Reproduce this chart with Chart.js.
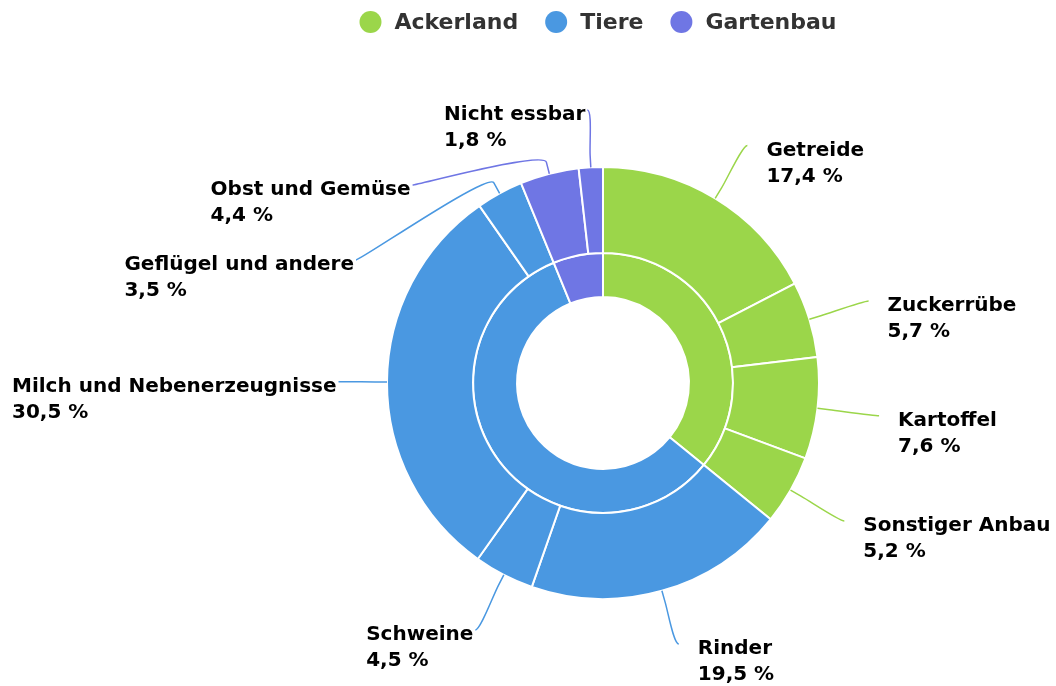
<!DOCTYPE html>
<html>
<head>
<meta charset="utf-8">
<script src="https://cdn.jsdelivr.net/npm/chart.js@4/dist/chart.umd.min.js"></script>
<style>
  html, body { margin: 0; padding: 0; background: #fff; }
  #wrap { width: 1056px; height: 686px; }
</style>
</head>
<body>
<div id="wrap"><canvas id="pie" width="1056" height="686"></canvas></div>
<script>
// inner ring: groups
let groups = ['Ackerland', 'Tiere', 'Gartenbau'];
let groupShares = [35.9, 58.0, 6.2];

// outer ring: products (clockwise from top)
let products = ['Getreide', 'Zuckerrübe', 'Kartoffel', 'Sonstiger Anbau', 'Rinder', 'Schweine',
    'Milch und Nebenerzeugnisse', 'Geflügel und andere', 'Obst und Gemüse', 'Nicht essbar'];
let productShares = [17.4, 5.7, 7.6, 5.2, 19.5, 4.5, 30.5, 3.5, 4.4, 1.8];
let productGroup = [0, 0, 0, 0, 1, 1, 1, 1, 2, 2];

let groupColors = ['#9BD64A', '#4A98E1', '#6F76E4'];

const FONT = 'bold 20px "DejaVu Sans", sans-serif';
const LEGEND_FONT = 'bold 22px "DejaVu Sans", sans-serif';

function pct(v) {
    return v.toFixed(1).replace('.', ',') + ' %';
}

// draws the legend at the top and the outside labels with connectors
let labelPlugin = {
    id: 'outerLabels',
    afterDraw(chart) {
        let ctx = chart.ctx;
        ctx.save();
        ctx.textBaseline = 'middle';

        // legend
        ctx.font = LEGEND_FONT;
        let items = groups.map((g, i) => ({ text: g, w: ctx.measureText(g).width, c: groupColors[i] }));
        let total = 0;
        items.forEach((it, i) => { total += 24 + it.w + (i < items.length - 1 ? 38 : 0); });
        total += 11;
        let lx = 598 - total / 2 + 11;
        items.forEach(it => {
            ctx.fillStyle = it.c;
            ctx.beginPath();
            ctx.arc(lx, 22, 11, 0, Math.PI * 2);
            ctx.fill();
            ctx.fillStyle = '#333333';
            ctx.textAlign = 'left';
            ctx.fillText(it.text, lx + 24, 23);
            lx += 24 + it.w + 38;
        });

        // labels
        ctx.font = FONT;
        let meta = chart.getDatasetMeta(0);
        let R, cx, cy;
        let pts = meta.data.map((arc, i) => {
            let p = arc.getProps(['x', 'y', 'startAngle', 'endAngle', 'outerRadius'], true);
            R = p.outerRadius; cx = p.x; cy = p.y;
            let a = (p.startAngle + p.endAngle) / 2;
            return { i: i, a: a, right: Math.cos(a) >= 0, ny: p.y + Math.sin(a) * (p.outerRadius + 62) };
        });
        let rl = R + 62;
        [true, false].forEach(side => {
            let list = pts.filter(p => p.right === side).sort((a, b) => a.ny - b.ny);
            // pass 1: push apart, x from these positions
            let prev = -1e9;
            list.forEach(p => {
                let y = Math.max(p.ny, prev + 75);
                prev = y;
                let dy = y - cy;
                let dx = Math.sqrt(Math.max(rl * rl - dy * dy, 0));
                p.ex = side ? cx + dx : cx - dx;
            });
            // pass 2: keep inside the top and bottom
            prev = -1e9;
            list.forEach(p => {
                p.ey = Math.min(Math.max(p.ny, prev + 75, 110), 644);
                prev = p.ey;
            });
        });

        pts.forEach(p => {
            let i = p.i;
            let name = products[i];
            let val = pct(productShares[i]);
            let w = Math.max(ctx.measureText(name).width, ctx.measureText(val).width);
            let ex = p.ex, ey = p.ey;
            let tx;
            if (p.right) {
                tx = ex + 19;
                if (tx + w > 1052) { tx = 1052 - w; ex = tx - 19; }
            } else {
                tx = ex - 2 - w;
                if (tx < 12) { tx = 12; ex = tx + w + 2; }
            }
            // connector
            let ca = Math.cos(p.a), sa = Math.sin(p.a);
            let sx = cx + ca * R, sy = cy + sa * R;
            let bx = cx + ca * (R + 12), by = cy + sa * (R + 12);
            ctx.strokeStyle = groupColors[productGroup[i]];
            ctx.lineWidth = 1.5;
            ctx.beginPath();
            ctx.moveTo(ex, ey);
            ctx.bezierCurveTo(ex + (p.right ? -5 : 5), ey, 2 * bx - sx, 2 * by - sy, bx, by);
            ctx.lineTo(sx, sy);
            ctx.stroke();
            // text
            ctx.fillStyle = '#000000';
            ctx.textAlign = 'left';
            ctx.fillText(name, tx, ey + 5);
            ctx.fillText(val, tx, ey + 31);
        });
        ctx.restore();
    }
};

new Chart(document.getElementById('pie'), {
    type: 'doughnut',
    data: {
        labels: products,
        datasets: [{
            label: 'Produkte',
            data: productShares,
            backgroundColor: productGroup.map(g => groupColors[g]),
            borderColor: '#ffffff',
            borderWidth: 2,
            weight: 86
        }, {
            label: 'Bereiche',
            data: groupShares,
            backgroundColor: groupColors,
            borderColor: '#ffffff',
            borderWidth: 2,
            weight: 44
        }]
    },
    options: {
        responsive: false,
        animation: false,
        events: [],
        cutout: '39.8%',
        hoverOffset: 0,
        layout: {
            padding: { top: 166, bottom: 86, left: 386, right: 236 }
        },
        plugins: {
            legend: { display: false },
            tooltip: { enabled: false }
        }
    },
    plugins: [labelPlugin]
});
</script>
</body>
</html>
